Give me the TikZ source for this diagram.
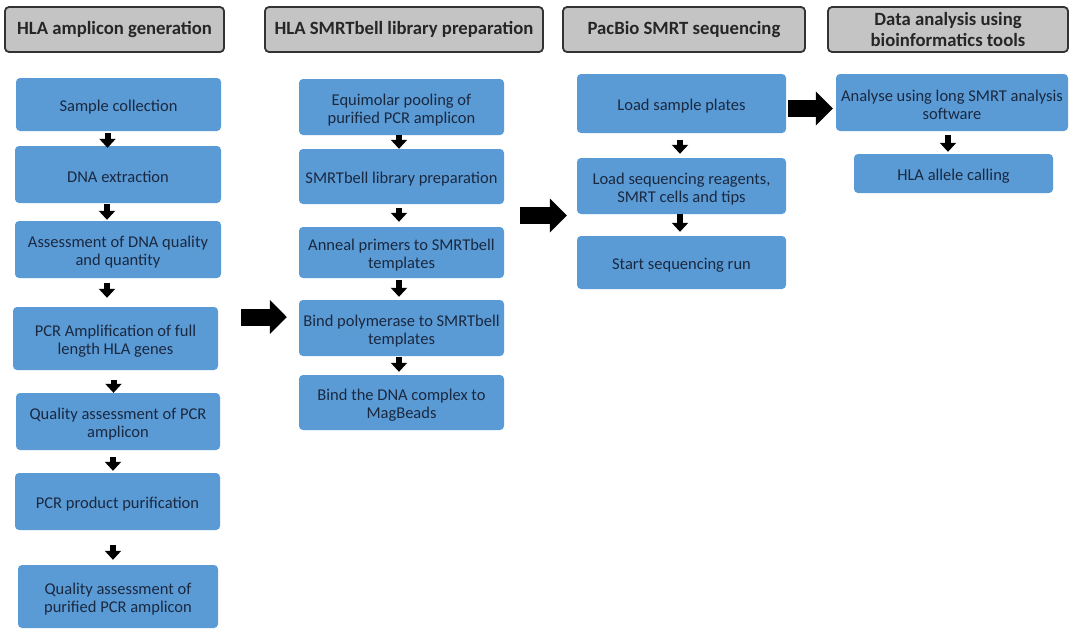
\documentclass[tikz,border=0pt]{standalone}
\usepackage{fontspec}
\setmainfont{Carlito}
\usetikzlibrary{arrows.meta}
\definecolor{boxblue}{HTML}{5B9BD5}
\definecolor{boxtext}{HTML}{1A2840}
\definecolor{hdrfill}{HTML}{C4C4C4}
\definecolor{hdrline}{HTML}{333333}
\definecolor{hdrtext}{HTML}{262626}
\newcommand{\tstrut}{\rule{0pt}{17pt}}
\tikzset{
  bbox/.style={fill=boxblue, rounded corners=4pt, inner sep=0pt, align=center,
    text=boxtext, font=\fontsize{16.5}{18}\selectfont},
  hbox/.style={fill=hdrfill, draw=hdrline, line width=1.8pt, rounded corners=4pt,
    inner sep=0pt, align=center, text=hdrtext, minimum height=45pt,
    font=\fontsize{18.7}{20.5}\selectfont\bfseries},
  sarr/.style={line width=6pt, black, -{Triangle[length=9pt,width=16pt]}},
  barr/.style={line width=17pt, black, -{Triangle[length=17pt,width=33pt]}}
}
\begin{document}
\begin{tikzpicture}[x=1pt,y=-1pt]
\useasboundingbox[fill=white] (0,0) rectangle (1070,630);

% headers
\node[hbox, minimum width=219pt] (h1) at (114.5,29.5) {HLA amplicon generation};
\node[hbox, minimum width=278pt] (h2) at (404,29.5) {HLA SMRTbell library preparation};
\node[hbox, minimum width=242pt] (h3) at (684,29.5) {PacBio SMRT sequencing};
\node[hbox, minimum width=240pt] (h4) at (948,29.5) {Data analysis using\\bioinformatics tools};

% column 1
\node[bbox, minimum width=205pt, minimum height=53pt] (s1) at (118.5,104.5) {\tstrut Sample collection};
\node[bbox, minimum width=206pt, minimum height=57pt] (s2) at (118,174.5) {\tstrut DNA extraction};
\node[bbox, minimum width=206pt, minimum height=57pt] (s3) at (118,249.5) {\tstrut Assessment of DNA quality\\and quantity};
\node[bbox, minimum width=205pt, minimum height=63pt] (s4) at (115.5,338.5) {\tstrut PCR Amplification of full\\length HLA genes};
\node[bbox, minimum width=204pt, minimum height=57pt] (s5) at (118,421.5) {\tstrut Quality assessment of PCR\\amplicon};
\node[bbox, minimum width=205pt, minimum height=57pt] (s6) at (117.5,501.5) {\tstrut PCR product purification};
\node[bbox, minimum width=200pt, minimum height=63pt] (s7) at (118,596.5) {\tstrut Quality assessment of\\purified PCR amplicon};

% column 2
\node[bbox, minimum width=205pt, minimum height=56pt] (t1) at (401.5,107) {\tstrut Equimolar pooling of\\purified PCR amplicon};
\node[bbox, minimum width=205pt, minimum height=55pt] (t2) at (401.5,176.5) {\tstrut SMRTbell library preparation};
\node[bbox, minimum width=205pt, minimum height=51pt] (t3) at (401.5,252.5) {\tstrut Anneal primers to SMRTbell\\templates};
\node[bbox, minimum width=205pt, minimum height=56pt] (t4) at (401.5,328) {\tstrut Bind polymerase to SMRTbell\\templates};
\node[bbox, minimum width=205pt, minimum height=55pt] (t5) at (401.5,402.5) {\tstrut Bind the DNA complex to\\MagBeads};

% column 3
\node[bbox, minimum width=209pt, minimum height=59pt] (u1) at (681.5,103.5) {\tstrut Load sample plates};
\node[bbox, minimum width=209pt, minimum height=56pt] (u2) at (681.5,186) {\tstrut Load sequencing reagents,\\SMRT cells and tips};
\node[bbox, minimum width=209pt, minimum height=53pt] (u3) at (681.5,262.5) {\tstrut Start sequencing run};

% column 4
\node[bbox, minimum width=232pt, minimum height=57pt] (v1) at (952,102.5) {\tstrut Analyse using long SMRT analysis\\software};
\node[bbox, minimum width=199pt, minimum height=39pt] (v2) at (953.5,173.5) {\tstrut HLA allele calling};

% small arrows column 1
\draw[sarr, shorten <=2pt, shorten >=-2pt] ([xshift=-11pt]s1.south) -- ([xshift=-11pt]s1.south |- s2.north);
\draw[sarr, shorten <=1pt, shorten >=1pt] ([xshift=-11pt]s2.south) -- ([xshift=-11pt]s2.south |- s3.north);
\draw[sarr, shorten <=5pt, shorten >=9pt] ([xshift=-11pt]s3.south) -- ([xshift=-11pt]s3.south |- s4.north);
\draw[sarr, shorten <=10pt, shorten >=0pt] ([xshift=-2pt]s4.south) -- ([xshift=-2pt]s4.south |- s5.north);
\draw[sarr, shorten <=7pt, shorten >=2pt] ([xshift=-5pt]s5.south) -- ([xshift=-5pt]s5.south |- s6.north);
\draw[sarr, shorten <=15pt, shorten >=5pt] ([xshift=-4.5pt]s6.south) -- ([xshift=-4.5pt]s6.south |- s7.north);

% small arrows column 2
\draw[sarr] ([xshift=-2.5pt]t1.south) -- ([xshift=-2.5pt]t1.south |- t2.north);
\draw[sarr, shorten <=4pt, shorten >=5pt] ([xshift=-2.5pt]t2.south) -- ([xshift=-2.5pt]t2.south |- t3.north);
\draw[sarr, shorten <=2pt, shorten >=3pt] ([xshift=-2.5pt]t3.south) -- ([xshift=-2.5pt]t3.south |- t4.north);
\draw[sarr, shorten <=1pt, shorten >=3pt] ([xshift=-2.5pt]t4.south) -- ([xshift=-2.5pt]t4.south |- t5.north);

% small arrows column 3
\draw[sarr, shorten <=7pt, shorten >=4pt] ([xshift=-1.5pt]u1.south) -- ([xshift=-1.5pt]u1.south |- u2.north);
\draw[sarr, shorten >=4pt] ([xshift=-1.5pt]u2.south) -- ([xshift=-1.5pt]u2.south |- u3.north);

% small arrow column 4
\draw[sarr, shorten <=4pt, shorten >=2pt] ([xshift=-4pt]v1.south) -- ([xshift=-4pt]v1.south |- v2.north);

% big arrows
\coordinate (yb1) at (0,317);
\coordinate (yb2) at (0,215.5);
\coordinate (yb3) at (0,108.5);
\draw[barr, shorten <=23pt, shorten >=12pt] (s4.east |- yb1) -- (t4.west |- yb1);
\draw[barr, shorten <=16pt, shorten >=10pt] (t3.east |- yb2) -- (u2.west |- yb2);
\draw[barr, shorten <=2pt, shorten >=3pt] (u1.east |- yb3) -- (v1.west |- yb3);
\end{tikzpicture}
\end{document}
